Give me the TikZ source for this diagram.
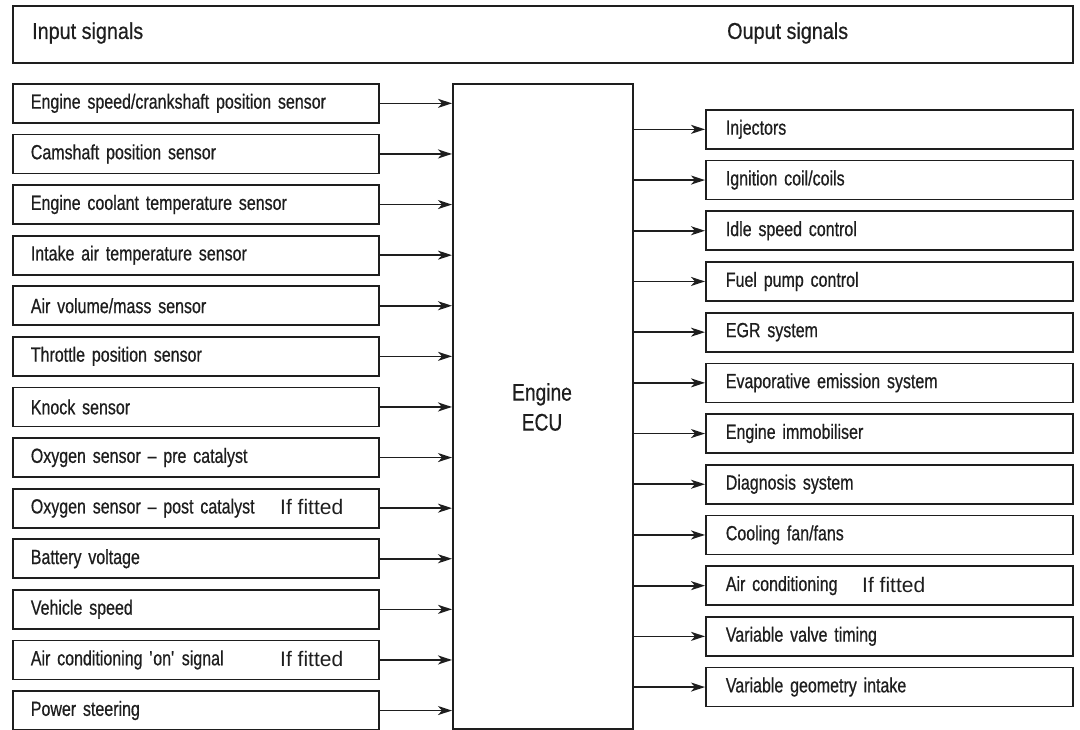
\documentclass[tikz,border=0pt]{standalone}
\usepackage{fontspec}
\usetikzlibrary{arrows.meta}
\newfontfamily\labfont[FakeStretch=0.78,FakeBold=0.6,Ligatures=TeX]{Liberation Sans}
\newfontfamily\hdrfont[FakeStretch=0.86,FakeBold=0.5]{Liberation Sans}
\newfontfamily\ecufont[FakeStretch=0.8,FakeBold=0.5]{Liberation Sans}
\newfontfamily\fitfont{Liberation Sans}
\definecolor{ink}{HTML}{1E1E1E}
\begin{document}
\begin{tikzpicture}[x=1pt,y=-1pt,
  every node/.style={text=ink},
  boxline/.style={draw=ink, line width=1.7pt},
  lbox/.style={boxline, anchor=north west, minimum height=39pt, text width=330pt, inner xsep=18pt, inner ysep=0pt, align=left, font=\labfont\fontsize{20.5}{24}\selectfont},
  rbox/.style={boxline, anchor=north west, minimum height=39pt, text width=327pt, inner xsep=20pt, inner ysep=0pt, align=left, font=\labfont\fontsize{20.5}{24}\selectfont},
  hdrtext/.style={anchor=west, inner sep=0pt, font=\hdrfont\fontsize{23}{27}\selectfont},
  iffit/.style={inner sep=0pt, font=\fitfont\fontsize{21}{25}\selectfont},
  arr/.style={draw=ink, line width=1.7pt, -{Stealth[length=14pt,width=9pt,inset=4pt]}}
]
\clip (0,0) rectangle (1080,729);
\fill[white] (0,0) rectangle (1080,729);
% header
\node[boxline, anchor=north west, minimum width=1060pt, minimum height=57pt, inner sep=0pt] (hdr) at (12,5) {};
\node[hdrtext] (inlab) at (32,33) {Input signals};
\node[hdrtext] (outlab) at (727,33) {Ouput signals};
% ECU
\node[boxline, anchor=north west, minimum width=180pt, minimum height=645pt, inner sep=0pt] (ecu) at (452,83) {};
\node[align=center, inner sep=0pt, font=\ecufont\fontsize{24}{30}\selectfont] (ecutext) at (542,407) {Engine\\ECU};
% inputs
\foreach \t [count=\i from 0] in {
  Engine speed/crankshaft position sensor,
  Camshaft position sensor,
  Engine coolant temperature sensor,
  Intake air temperature sensor,
  Air volume/mass sensor,
  Throttle position sensor,
  Knock sensor,
  Oxygen sensor – pre catalyst,
  Oxygen sensor – post catalyst,
  Battery voltage,
  Vehicle speed,
  Air conditioning \textquotesingle on\textquotesingle{} signal,
  Power steering}
{
  \node[lbox] (l\i) at (12,{83+50.6*\i}) {\t};
  \draw[arr] (l\i.east) -- (l\i.east -| ecu.west);
}
% outputs
\foreach \t [count=\i from 0] in {
  Injectors,
  Ignition coil/coils,
  Idle speed control,
  Fuel pump control,
  EGR system,
  Evaporative emission system,
  Engine immobiliser,
  Diagnosis system,
  Cooling fan/fans,
  Air conditioning,
  Variable valve timing,
  Variable geometry intake}
{
  \node[rbox] (r\i) at (705,{109+50.7*\i}) {\t};
  \draw[arr] (r\i.west -| ecu.east) -- (r\i.west);
}
% if fitted notes
\node[iffit, anchor=west] (fitA) at (280,507) {If fitted};
\node[iffit, anchor=west] (fitB) at (280,659) {If fitted};
\node[iffit, anchor=west] (fitC) at (862,585) {If fitted};
\end{tikzpicture}
\end{document}
